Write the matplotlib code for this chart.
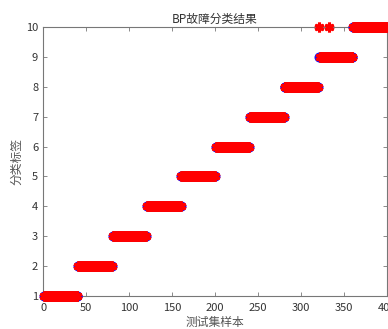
import numpy as np
import matplotlib
matplotlib.use("Agg")
import matplotlib.pyplot as plt

plt.rcParams['font.family'] = ['Noto Sans CJK SC', 'DejaVu Sans']

class_labels = [1, 2, 3, 4, 5, 6, 7, 8, 9, 10]
samples_per_class = [40, 40, 40, 40, 40, 40, 40, 40, 40, 40]
error_samples = [321, 333]      # sample indices misclassified
error_predicted = [10, 10]      # predicted labels for them

true_labels = np.repeat(class_labels, samples_per_class)
predicted = true_labels.copy()
for s, p in zip(error_samples, error_predicted):
    predicted[s - 1] = p
idx = np.arange(1, len(true_labels) + 1)

fig = plt.figure(figsize=(3.88, 3.29), dpi=100)
ax = fig.add_axes([0.111, 0.100, 0.886, 0.818])

ax.plot(idx, true_labels, 'o', ls='none', mfc='none', mec='#1010ff', ms=6, mew=1.2,
        clip_on=False, zorder=3)
ax.plot(idx, predicted, ls='none', marker=(6, 2, 0), color='red', ms=7, mew=2.2,
        clip_on=False, zorder=4)

ax.set_xlim(0, 400)
ax.set_ylim(1, 10)
ax.set_xticks(np.arange(0, 401, 50))
ax.set_yticks(np.arange(1, 11, 1))
ax.tick_params(direction='in', top=True, right=True, length=3, labelsize=8,
               width=0.6, colors='#777777', labelcolor='#333333')
ax.tick_params(axis='x', pad=5)
for sp in ax.spines.values():
    sp.set_color('#777777')
    sp.set_linewidth(0.8)

ax.set_title('BP故障分类结果', fontsize=8.5, color='#333333', pad=3)
ax.set_xlabel('测试集样本', fontsize=8.5, color='#555555', labelpad=2)
ax.set_ylabel('分类标签', fontsize=8.5, color='#555555', labelpad=2)

fig.savefig('out.png', dpi=100)
